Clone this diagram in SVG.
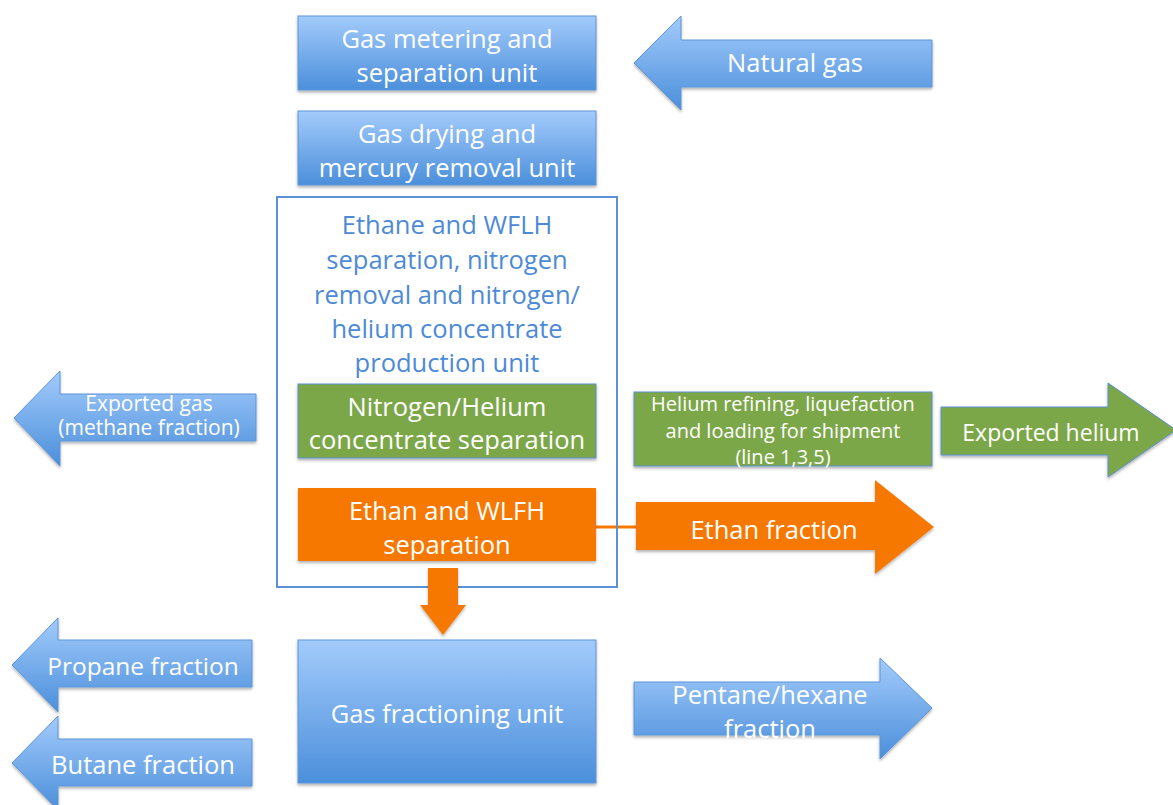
<svg xmlns="http://www.w3.org/2000/svg" width="1173" height="805" viewBox="0 0 1173 805">
<defs>
<linearGradient id="blue" x1="0" y1="0" x2="0" y2="1">
<stop offset="0" stop-color="#a3cbfb"/>
<stop offset="1" stop-color="#4b8fdb"/>
</linearGradient>
<filter id="sh" x="-10%" y="-10%" width="120%" height="130%">
<feDropShadow dx="0" dy="2" stdDeviation="1.5" flood-color="#000" flood-opacity="0.3"/>
</filter>
<style>
.b{fill:url(#blue);stroke:#5d95d8;stroke-width:1;filter:url(#sh)}
.g{fill:#7ba74a;stroke:#5b8fd0;stroke-width:1;filter:url(#sh)}
.o{fill:#f67800;filter:url(#sh)}
.t{font-family:"Open Sans",Lato,sans-serif;fill:#fff;text-anchor:middle;font-size:25.5px}
.tb{font-family:"Open Sans",Lato,sans-serif;fill:#4d8ad6;text-anchor:middle;font-size:25.5px}
</style>
</defs>
<rect width="1173" height="805" fill="#fff"/>
<g id="connectors">
<line x1="596" y1="527" x2="640" y2="527" stroke="#f67800" stroke-width="3"/>
</g>
<g id="natural-gas">
<path class="b" d="M634,63 L681,16 L681,40 L932,40 L932,87 L681,87 L681,110 Z"/>
<text class="t" x="795" y="72">Natural gas</text>
</g>
<g id="gas-metering">
<rect class="b" x="298" y="16" width="298" height="74"/>
<text class="t" x="447" y="48">Gas metering and</text>
<text class="t" x="447" y="82">separation unit</text>
</g>
<g id="gas-drying">
<rect class="b" x="298" y="111" width="298" height="74"/>
<text class="t" x="447" y="143">Gas drying and</text>
<text class="t" x="447" y="177">mercury removal unit</text>
</g>
<g id="ethane-unit">
<rect x="277" y="197" width="340" height="390" fill="none" stroke="#5b91d6" stroke-width="2"/>
<text class="tb" x="447" y="234">Ethane and WFLH</text>
<text class="tb" x="447" y="269">separation, nitrogen</text>
<text class="tb" x="447" y="304">removal and nitrogen/</text>
<text class="tb" x="447" y="338">helium concentrate</text>
<text class="tb" x="447" y="372">production unit</text>
</g>
<g id="exported-gas">
<path class="b" d="M14,418 L60,371 L60,394 L256,394 L256,441 L60,441 L60,466 Z"/>
<text class="t" x="149" y="411" style="font-size:21px">Exported gas</text>
<text class="t" x="149" y="435" style="font-size:21px">(methane fraction)</text>
</g>
<g id="nitrogen-helium">
<rect class="g" x="298" y="384" width="298" height="74"/>
<text class="t" x="447" y="416">Nitrogen/Helium</text>
<text class="t" x="447" y="449">concentrate separation</text>
</g>
<g id="helium-refining">
<rect class="g" x="634" y="392" width="298" height="74"/>
<text class="t" x="783" y="411" style="font-size:20px">Helium refining, liquefaction</text>
<text class="t" x="783" y="438" style="font-size:20px">and loading for shipment</text>
<text class="t" x="783" y="464" style="font-size:20px">(line 1,3,5)</text>
</g>
<g id="exported-helium">
<path class="g" d="M941,407 L1108,407 L1108,383 L1176,430 L1108,477 L1108,455 L941,455 Z"/>
<text class="t" x="1051" y="441" style="font-size:23px">Exported helium</text>
</g>
<g id="ethan-wlfh">
<rect class="o" x="298" y="488" width="298" height="73"/>
<text class="t" x="447" y="520">Ethan and WLFH</text>
<text class="t" x="447" y="554">separation</text>
</g>
<g id="ethan-fraction">
<path class="o" d="M636,502 L875,502 L875,480 L934,527 L875,574 L875,550 L636,550 Z"/>
<text class="t" x="774" y="539">Ethan fraction</text>
</g>
<g id="down-arrow">
<path class="o" d="M428,568 L458,568 L458,605 L466,605 L443,635 L420,605 L428,605 Z"/>
</g>
<g id="gas-fractioning">
<rect class="b" x="298" y="640" width="298" height="143"/>
<text class="t" x="447" y="723">Gas fractioning unit</text>
</g>
<g id="propane">
<path class="b" d="M12,665 L58,618 L58,640 L252,640 L252,687 L58,687 L58,712 Z"/>
<text class="t" x="143" y="675" style="font-size:24.5px">Propane fraction</text>
</g>
<g id="butane">
<path class="b" d="M12,763 L58,716 L58,739 L252,739 L252,786 L58,786 L58,810 Z"/>
<text class="t" x="143" y="774">Butane fraction</text>
</g>
<g id="pentane">
<path class="b" d="M634,682 L880,682 L880,658 L932,708 L880,759 L880,735 L634,735 Z"/>
<text class="t" x="770" y="704">Pentane/hexane</text>
<text class="t" x="770" y="738">fraction</text>
</g>
</svg>
